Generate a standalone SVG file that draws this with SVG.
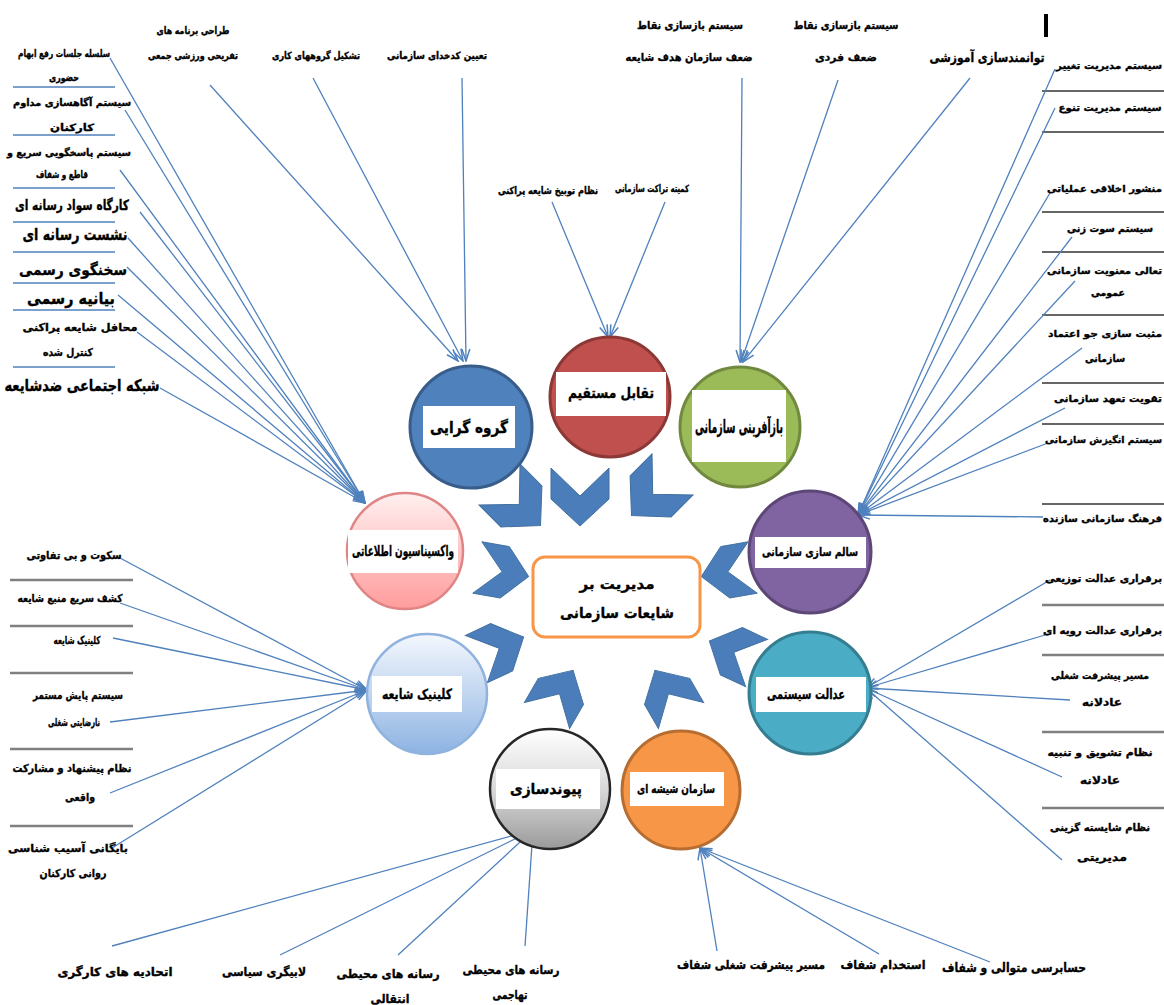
<svg xmlns="http://www.w3.org/2000/svg" width="1164" height="1005" viewBox="0 0 1164 1005">
<defs>
<style>
.t{font-family:'DejaVu Sans',sans-serif;font-weight:bold;fill:#000;stroke:#000;stroke-width:0.35;text-anchor:middle;dominant-baseline:central}
.te{text-anchor:end}
.c{stroke:#4F81BD;stroke-width:1.3;fill:none;marker-end:url(#arr)}
.sb{stroke:#4F81BD;stroke-width:1.5}
.sg{stroke:#808080;stroke-width:2.5}
.sd{stroke:#666;stroke-width:1.8}
.chev{fill:#4A7DBA;stroke:#41709F;stroke-width:1}
.box{fill:#fff}
</style>
<marker id="arr" viewBox="0 0 14 10" refX="13" refY="5" markerWidth="14" markerHeight="10" markerUnits="userSpaceOnUse" orient="auto">
<path d="M1,1 L13,5 L1,9" fill="none" stroke="#4F81BD" stroke-width="1.5"/>
</marker>
<polygon id="chev" points="-29,-29 0,-1 29,-29 29,2 0,29 -29,2"/>
<linearGradient id="gPink" x1="0" y1="0" x2="0" y2="1"><stop offset="0" stop-color="#FFF0F0"/><stop offset="1" stop-color="#FF9C9C"/></linearGradient>
<linearGradient id="gLB" x1="0" y1="0" x2="0" y2="1"><stop offset="0" stop-color="#F4F8FE"/><stop offset="1" stop-color="#8DB3E2"/></linearGradient>
<linearGradient id="gGray" x1="0" y1="0" x2="0" y2="1"><stop offset="0" stop-color="#FFFFFF"/><stop offset="0.5" stop-color="#D9D9D9"/><stop offset="1" stop-color="#9A9A9A"/></linearGradient>
</defs>
<rect width="1164" height="1005" fill="#fff"/>
<rect x="1044" y="14" width="4" height="23" fill="#000"/>

<!-- list separators -->
<g id="separators">
<line class="sb" x1="13" y1="87" x2="115" y2="87"/>
<line class="sb" x1="13" y1="135" x2="115" y2="135"/>
<line class="sb" x1="13" y1="188" x2="115" y2="188"/>
<line class="sb" x1="13" y1="222" x2="115" y2="222"/>
<line class="sb" x1="13" y1="252" x2="115" y2="252"/>
<line class="sb" x1="13" y1="283" x2="115" y2="283"/>
<line class="sb" x1="13" y1="310" x2="115" y2="310"/>
<line class="sb" x1="13" y1="367" x2="115" y2="367"/>
<line class="sg" x1="10" y1="580" x2="133" y2="580"/>
<line class="sg" x1="10" y1="626" x2="133" y2="626"/>
<line class="sg" x1="10" y1="673" x2="133" y2="673"/>
<line class="sg" x1="10" y1="749" x2="133" y2="749"/>
<line class="sg" x1="10" y1="826" x2="133" y2="826"/>
<line class="sd" x1="1042" y1="91" x2="1164" y2="91"/>
<line class="sd" x1="1042" y1="132" x2="1164" y2="132"/>
<line class="sd" x1="1042" y1="212" x2="1164" y2="212"/>
<line class="sd" x1="1042" y1="252" x2="1164" y2="252"/>
<line class="sd" x1="1042" y1="315" x2="1164" y2="315"/>
<line class="sd" x1="1042" y1="383" x2="1164" y2="383"/>
<line class="sd" x1="1042" y1="424" x2="1164" y2="424"/>
<line class="sd" x1="1042" y1="504" x2="1164" y2="504"/>
<line class="sg" x1="1042" y1="605" x2="1164" y2="605"/>
<line class="sg" x1="1042" y1="655" x2="1164" y2="655"/>
<line class="sg" x1="1042" y1="732" x2="1164" y2="732"/>
<line class="sg" x1="1042" y1="808" x2="1164" y2="808"/>
</g>

<!-- connectors -->
<g id="connectors">
<line class="c" x1="210" y1="85" x2="458" y2="361"/>
<line class="c" x1="313" y1="78" x2="463" y2="361"/>
<line class="c" x1="462" y1="78" x2="466" y2="361"/>
<line class="c" x1="552" y1="202" x2="608" y2="337"/>
<line class="c" x1="665" y1="202" x2="610" y2="337"/>
<line class="c" x1="742" y1="78" x2="740" y2="362"/>
<line class="c" x1="838" y1="80" x2="741" y2="362"/>
<line class="c" x1="970" y1="78" x2="743" y2="362"/>
<line class="c" x1="110" y1="58" x2="365" y2="503"/>
<line class="c" x1="125" y1="110" x2="365" y2="503"/>
<line class="c" x1="120" y1="170" x2="365" y2="503"/>
<line class="c" x1="140" y1="212" x2="365" y2="503"/>
<line class="c" x1="128" y1="238" x2="365" y2="503"/>
<line class="c" x1="127" y1="267" x2="365" y2="503"/>
<line class="c" x1="118" y1="295" x2="365" y2="503"/>
<line class="c" x1="137" y1="332" x2="365" y2="503"/>
<line class="c" x1="160" y1="388" x2="365" y2="503"/>
<line class="c" x1="1055" y1="69" x2="858" y2="515"/>
<line class="c" x1="1055" y1="108" x2="858" y2="515"/>
<line class="c" x1="1050" y1="193" x2="858" y2="515"/>
<line class="c" x1="1072" y1="237" x2="858" y2="515"/>
<line class="c" x1="1075" y1="281" x2="858" y2="515"/>
<line class="c" x1="1082" y1="348" x2="858" y2="515"/>
<line class="c" x1="1065" y1="408" x2="858" y2="515"/>
<line class="c" x1="1048" y1="443" x2="858" y2="515"/>
<line class="c" x1="1043" y1="517" x2="858" y2="515"/>
<line class="c" x1="1050" y1="580" x2="866" y2="688"/>
<line class="c" x1="1045" y1="635" x2="866" y2="688"/>
<line class="c" x1="1070" y1="700" x2="866" y2="688"/>
<line class="c" x1="1062" y1="777" x2="866" y2="688"/>
<line class="c" x1="1062" y1="860" x2="866" y2="688"/>
<line class="c" x1="120" y1="558" x2="367" y2="690"/>
<line class="c" x1="120" y1="603" x2="367" y2="690"/>
<line class="c" x1="113" y1="638" x2="367" y2="690"/>
<line class="c" x1="110" y1="722" x2="367" y2="690"/>
<line class="c" x1="110" y1="793" x2="367" y2="690"/>
<line class="c" x1="112" y1="848" x2="367" y2="690"/>
<line class="c" x1="112" y1="946" x2="533" y2="830"/>
<line class="c" x1="280" y1="955" x2="533" y2="830"/>
<line class="c" x1="398" y1="955" x2="533" y2="830"/>
<line class="c" x1="525" y1="946" x2="533" y2="830"/>
<line class="c" x1="717" y1="951" x2="700" y2="848"/>
<line class="c" x1="879" y1="954" x2="700" y2="848"/>
<line class="c" x1="990" y1="962" x2="700" y2="848"/>
</g>

<!-- chevrons -->
<g id="chevrons" class="chev">
<use href="#chev" transform="translate(520,505) rotate(-45)"/>
<use href="#chev" transform="translate(580,497)"/>
<use href="#chev" transform="translate(652,495) rotate(45)"/>
<use href="#chev" transform="translate(503,572) rotate(-80) scale(0.9)"/>
<use href="#chev" transform="translate(727,572) rotate(80) scale(0.9)"/>
<use href="#chev" transform="translate(500,648) rotate(-115) scale(0.9)"/>
<use href="#chev" transform="translate(733,652) rotate(115) scale(0.9)"/>
<use href="#chev" transform="translate(560,693) rotate(-150) scale(0.9)"/>
<use href="#chev" transform="translate(668,693) rotate(150) scale(0.9)"/>
</g>

<!-- center -->
<g id="center">
<rect x="533" y="557" width="167" height="80" rx="12" fill="#fff" stroke="#F79646" stroke-width="3"/>
<text class="t" x="617" y="584" font-size="14" textLength="75" lengthAdjust="spacingAndGlyphs">مدیریت بر</text>
<text class="t" x="617" y="613" font-size="15" textLength="114" lengthAdjust="spacingAndGlyphs">شایعات سازمانی</text>
</g>

<g id="n-goroh">
<circle cx="471" cy="427" r="61" fill="#4F81BD" stroke="#385D8A" stroke-width="3"/>
<rect class="box" x="423" y="406" width="92" height="42"/>
<text class="t" x="469" y="427" font-size="16" textLength="78" lengthAdjust="spacingAndGlyphs">گروه گرایی</text>
</g>
<g id="n-taghabol">
<circle cx="610" cy="397" r="60" fill="#C0504D" stroke="#8C3836" stroke-width="3"/>
<rect class="box" x="556" y="372" width="110" height="44"/>
<text class="t" x="611" y="393" font-size="15" textLength="86" lengthAdjust="spacingAndGlyphs">تقابل مستقیم</text>
</g>
<g id="n-bazafarini">
<circle cx="740" cy="427" r="60" fill="#9BBB59" stroke="#71893F" stroke-width="3"/>
<rect class="box" x="692" y="390" width="94" height="72"/>
<text class="t" x="739" y="426" font-size="18" textLength="88" lengthAdjust="spacingAndGlyphs">بازآفرینی سازمانی</text>
</g>
<g id="n-vaksinasion">
<circle cx="405" cy="551" r="58" fill="url(#gPink)" stroke="#E08585" stroke-width="2.5"/>
<rect class="box" x="348" y="530" width="110" height="43"/>
<text class="t" x="403" y="551" font-size="15" textLength="102" lengthAdjust="spacingAndGlyphs">واکسیناسیون اطلاعاتی</text>
</g>
<g id="n-salem">
<circle cx="810" cy="552" r="61" fill="#8064A2" stroke="#5C4776" stroke-width="3"/>
<rect class="box" x="755" y="537" width="111" height="31"/>
<text class="t" x="810" y="552" font-size="12" textLength="96" lengthAdjust="spacingAndGlyphs">سالم سازی سازمانی</text>
</g>
<g id="n-klinik">
<circle cx="427" cy="694" r="60" fill="url(#gLB)" stroke="#8FB2DE" stroke-width="2.5"/>
<rect class="box" x="372" y="676" width="90" height="36"/>
<text class="t" x="417" y="694" font-size="14" textLength="70" lengthAdjust="spacingAndGlyphs">کلینیک شایعه</text>
</g>
<g id="n-edalat">
<circle cx="810" cy="693" r="61" fill="#4BACC6" stroke="#357D91" stroke-width="3"/>
<rect class="box" x="756" y="677" width="110" height="35"/>
<text class="t" x="806" y="694" font-size="14" textLength="78" lengthAdjust="spacingAndGlyphs">عدالت سیستمی</text>
</g>
<g id="n-peyvand">
<circle cx="550" cy="789" r="60" fill="url(#gGray)" stroke="#262626" stroke-width="2.5"/>
<rect class="box" x="496" y="769" width="104" height="40"/>
<text class="t" x="546" y="789" font-size="15" textLength="72" lengthAdjust="spacingAndGlyphs">پیوندسازی</text>
</g>
<g id="n-shishe">
<circle cx="681" cy="790" r="59" fill="#F79646" stroke="#B66D31" stroke-width="3"/>
<rect class="box" x="630" y="772" width="94" height="34"/>
<text class="t" x="676" y="789" font-size="12" textLength="78" lengthAdjust="spacingAndGlyphs">سازمان شیشه ای</text>
</g>

<!-- top labels -->
<g id="labels-top">
<text class="t" x="193" y="30" font-size="10" textLength="73" lengthAdjust="spacingAndGlyphs">طراحی برنامه های</text>
<text class="t" x="193" y="55" font-size="10" textLength="90" lengthAdjust="spacingAndGlyphs">تفریحی ورزشی جمعی</text>
<text class="t" x="316" y="55" font-size="10" textLength="88" lengthAdjust="spacingAndGlyphs">تشکیل گروههای کاری</text>
<text class="t" x="437" y="55" font-size="10" textLength="100" lengthAdjust="spacingAndGlyphs">تعیین کدخدای سازمانی</text>
<text class="t" x="690" y="25" font-size="11" textLength="106" lengthAdjust="spacingAndGlyphs">سیستم بازسازی نقاط</text>
<text class="t" x="689" y="57" font-size="11" textLength="127" lengthAdjust="spacingAndGlyphs">ضعف سازمان هدف شایعه</text>
<text class="t" x="846" y="25" font-size="11" textLength="105" lengthAdjust="spacingAndGlyphs">سیستم بازسازی نقاط</text>
<text class="t" x="846" y="57" font-size="11" textLength="62" lengthAdjust="spacingAndGlyphs">ضعف فردی</text>
<text class="t" x="987" y="57" font-size="13" textLength="115" lengthAdjust="spacingAndGlyphs">توانمندسازی آموزشی</text>
<text class="t" x="548" y="190" font-size="10" textLength="100" lengthAdjust="spacingAndGlyphs">نظام توبیخ شایعه پراکنی</text>
<text class="t" x="652" y="188" font-size="10" textLength="74" lengthAdjust="spacingAndGlyphs">کمیته تراکت سازمانی</text>
</g>

<!-- left top list -->
<g id="list-left-top">
<text class="t" x="64" y="53" font-size="10" textLength="92" lengthAdjust="spacingAndGlyphs">سلسله جلسات رفع ابهام</text>
<text class="t" x="64" y="77" font-size="10" textLength="30" lengthAdjust="spacingAndGlyphs">حضوری</text>
<text class="t" x="72" y="102" font-size="10" textLength="118" lengthAdjust="spacingAndGlyphs">سیستم آگاهسازی مداوم</text>
<text class="t" x="72" y="127" font-size="10" textLength="44" lengthAdjust="spacingAndGlyphs">کارکنان</text>
<text class="t" x="69" y="152" font-size="10" textLength="124" lengthAdjust="spacingAndGlyphs">سیستم پاسخگویی سریع و</text>
<text class="t" x="62" y="174" font-size="10" textLength="52" lengthAdjust="spacingAndGlyphs">قاطع و شفاف</text>
<text class="t" x="72" y="205" font-size="14" textLength="114" lengthAdjust="spacingAndGlyphs">کارگاه سواد رسانه ای</text>
<text class="t" x="75" y="234" font-size="16" textLength="105" lengthAdjust="spacingAndGlyphs">نشست رسانه ای</text>
<text class="t" x="73" y="270" font-size="15" textLength="108" lengthAdjust="spacingAndGlyphs">سخنگوی رسمی</text>
<text class="t" x="71" y="298" font-size="16" textLength="88" lengthAdjust="spacingAndGlyphs">بیانیه رسمی</text>
<text class="t" x="80" y="327" font-size="11" textLength="115" lengthAdjust="spacingAndGlyphs">محافل شایعه پراکنی</text>
<text class="t" x="68" y="352" font-size="11" textLength="50" lengthAdjust="spacingAndGlyphs">کنترل شده</text>
<text class="t" x="82" y="385" font-size="16" textLength="155" lengthAdjust="spacingAndGlyphs">شبکه اجتماعی ضدشایعه</text>
</g>

<!-- right top list -->
<g id="list-right-top">
<text class="t" x="1109" y="65" font-size="10" textLength="106" lengthAdjust="spacingAndGlyphs">سیستم مدیریت تغییر</text>
<text class="t" x="1110" y="107" font-size="10" textLength="103" lengthAdjust="spacingAndGlyphs">سیستم مدیریت تنوع</text>
<text class="t te" x="1162" y="188" font-size="9.5" textLength="115" lengthAdjust="spacingAndGlyphs">منشور اخلاقی عملیاتی</text>
<text class="t" x="1110" y="228" font-size="10" textLength="86" lengthAdjust="spacingAndGlyphs">سیستم سوت زنی</text>
<text class="t te" x="1162" y="270" font-size="9.5" textLength="115" lengthAdjust="spacingAndGlyphs">تعالی معنویت سازمانی</text>
<text class="t" x="1108" y="292" font-size="10" textLength="34" lengthAdjust="spacingAndGlyphs">عمومی</text>
<text class="t te" x="1162" y="333" font-size="9.5" textLength="114" lengthAdjust="spacingAndGlyphs">مثبت سازی جو اعتماد</text>
<text class="t" x="1105" y="358" font-size="10" textLength="40" lengthAdjust="spacingAndGlyphs">سازمانی</text>
<text class="t te" x="1162" y="398" font-size="9.5" textLength="108" lengthAdjust="spacingAndGlyphs">تقویت تعهد سازمانی</text>
<text class="t te" x="1162" y="440" font-size="9" textLength="117" lengthAdjust="spacingAndGlyphs">سیستم انگیزش سازمانی</text>
<text class="t te" x="1162" y="518" font-size="9.5" textLength="119" lengthAdjust="spacingAndGlyphs">فرهنگ سازمانی سازنده</text>
</g>

<!-- right bottom list -->
<g id="list-right-bottom">
<text class="t te" x="1162" y="578" font-size="10" textLength="117" lengthAdjust="spacingAndGlyphs">برقراری عدالت توزیعی</text>
<text class="t te" x="1162" y="630" font-size="10" textLength="119" lengthAdjust="spacingAndGlyphs">برقراری عدالت رویه ای</text>
<text class="t" x="1100" y="675" font-size="10" textLength="98" lengthAdjust="spacingAndGlyphs">مسیر پیشرفت شغلی</text>
<text class="t" x="1102" y="702" font-size="11" textLength="40" lengthAdjust="spacingAndGlyphs">عادلانه</text>
<text class="t" x="1100" y="752" font-size="10" textLength="105" lengthAdjust="spacingAndGlyphs">نظام تشویق و تنبیه</text>
<text class="t" x="1100" y="780" font-size="11" textLength="40" lengthAdjust="spacingAndGlyphs">عادلانه</text>
<text class="t" x="1100" y="827" font-size="10" textLength="100" lengthAdjust="spacingAndGlyphs">نظام شایسته گزینی</text>
<text class="t" x="1102" y="857" font-size="11" textLength="50" lengthAdjust="spacingAndGlyphs">مدیریتی</text>
</g>

<!-- left bottom list -->
<g id="list-left-bottom">
<text class="t" x="74" y="555" font-size="11" textLength="95" lengthAdjust="spacingAndGlyphs">سکوت و بی تفاوتی</text>
<text class="t" x="70" y="598" font-size="11" textLength="105" lengthAdjust="spacingAndGlyphs">کشف سریع منبع شایعه</text>
<text class="t" x="77" y="640" font-size="11" textLength="47" lengthAdjust="spacingAndGlyphs">کلینیک شایعه</text>
<text class="t" x="78" y="695" font-size="11" textLength="90" lengthAdjust="spacingAndGlyphs">سیستم پایش مستمر</text>
<text class="t" x="74" y="722" font-size="11" textLength="52" lengthAdjust="spacingAndGlyphs">نارضایتی شغلی</text>
<text class="t" x="72" y="768" font-size="11" textLength="119" lengthAdjust="spacingAndGlyphs">نظام پیشنهاد و مشارکت</text>
<text class="t" x="80" y="797" font-size="11" textLength="30" lengthAdjust="spacingAndGlyphs">واقعی</text>
<text class="t" x="68" y="848" font-size="11" textLength="120" lengthAdjust="spacingAndGlyphs">بایگانی آسیب شناسی</text>
<text class="t" x="73" y="873" font-size="11" textLength="67" lengthAdjust="spacingAndGlyphs">روانی کارکنان</text>
</g>

<!-- bottom labels -->
<g id="labels-bottom">
<text class="t" x="115" y="972" font-size="12" textLength="115" lengthAdjust="spacingAndGlyphs">اتحادیه های کارگری</text>
<text class="t" x="264" y="972" font-size="12" textLength="84" lengthAdjust="spacingAndGlyphs">لابیگری سیاسی</text>
<text class="t" x="388" y="974" font-size="12" textLength="103" lengthAdjust="spacingAndGlyphs">رسانه های محیطی</text>
<text class="t" x="390" y="999" font-size="12" textLength="39" lengthAdjust="spacingAndGlyphs">انتقالی</text>
<text class="t" x="511" y="970" font-size="12" textLength="97" lengthAdjust="spacingAndGlyphs">رسانه های محیطی</text>
<text class="t" x="510" y="995" font-size="12" textLength="35" lengthAdjust="spacingAndGlyphs">تهاجمی</text>
<text class="t" x="751" y="965" font-size="12" textLength="148" lengthAdjust="spacingAndGlyphs">مسیر پیشرفت شغلی شفاف</text>
<text class="t" x="883" y="965" font-size="12" textLength="85" lengthAdjust="spacingAndGlyphs">استخدام شفاف</text>
<text class="t" x="1014" y="967" font-size="13" textLength="144" lengthAdjust="spacingAndGlyphs">حسابرسی متوالی و شفاف</text>
</g>
</svg>
